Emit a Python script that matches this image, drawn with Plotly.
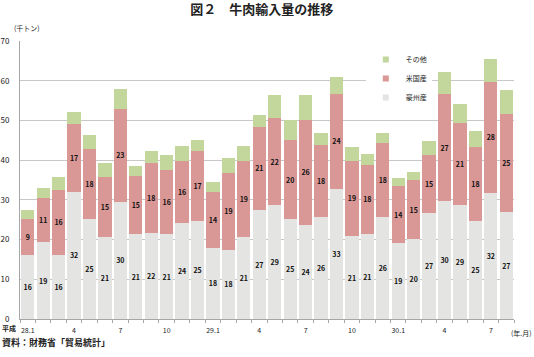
import plotly.graph_objects as go

months = ["28.1","28.2","28.3","28.4","28.5","28.6","28.7","28.8","28.9","28.10","28.11","28.12",
          "29.1","29.2","29.3","29.4","29.5","29.6","29.7","29.8","29.9","29.10","29.11","29.12",
          "30.1","30.2","30.3","30.4","30.5","30.6","30.7","30.8"]
tick_labels = ["28.1","4","7","10","29.1","4","7","10","30.1","4","7"]

australia = [16.1,19.3,16.1,32.1,25.1,20.6,29.5,21.4,21.6,21.4,24.1,24.8,
             17.9,17.5,20.6,27.4,28.6,25.2,23.7,25.8,32.7,20.9,21.3,25.8,
             19.1,20.1,26.6,29.6,28.7,24.8,31.8,26.9]
usa = [9.0,11.1,16.4,16.9,17.8,15.1,23.4,14.7,17.7,16.2,15.8,17.4,
       14.0,19.2,19.1,21.0,22.1,19.8,26.5,18.0,24.0,19.0,17.6,18.4,
       14.3,14.9,14.6,27.1,20.7,18.4,28.0,24.7]
other = [2.3,2.5,3.3,3.1,3.4,3.5,4.9,2.5,2.9,3.6,3.7,2.8,
         2.7,3.9,3.8,3.0,5.6,5.1,6.1,3.0,4.2,3.4,2.6,2.7,
         2.2,2.1,3.6,5.4,4.7,4.1,5.7,6.1]

series_names = ["豪州産", "米国産", "その他"]
colors = ["#e4e4e2", "#d99795", "#c3d69b"]

x = list(range(len(months)))
FONT = "Noto Sans CJK JP"

fig = go.Figure()
for name, vals, col, lab in zip(series_names, [australia, usa, other], colors, [True, True, False]):
    fig.add_trace(go.Bar(
        x=x, y=vals, name=name, marker=dict(color=col, line=dict(width=0)),
        text=[f"<b>{round(v)}</b>" for v in vals] if lab else None,
        textposition="inside" if lab else "none",
        insidetextanchor="middle", textangle=0,
        textfont=dict(size=7, color="#111", family=FONT),
        showlegend=False, hoverinfo="y+name"))

# legend entries with small square swatches
for rank, (name, col) in enumerate(zip(series_names, colors)):
    fig.add_trace(go.Scatter(
        x=[None], y=[None], mode="markers", name=name,
        marker=dict(symbol="square", size=6, color=col),
        legendgroup=name, legendrank=10 - rank, showlegend=True))

fig.update_layout(
    width=534, height=357,
    barmode="stack", bargap=0.14,
    paper_bgcolor="white", plot_bgcolor="white",
    margin=dict(l=20, r=20, t=41, b=38),
    font=dict(family=FONT, size=8, color="#222"),
    uniformtext=dict(minsize=7, mode="show"),
    title=dict(text="<b>図２　牛肉輸入量の推移</b>", x=0.49, xanchor="center", y=0.974, yanchor="middle",
               font=dict(size=13, family=FONT, color="#222")),
    legend=dict(x=0.70, y=0.986, xanchor="left", yanchor="top", bgcolor="white",
                traceorder="grouped", tracegroupgap=0,
                font=dict(size=7, family=FONT, color="#222"),
                itemwidth=30),
    showlegend=True,
)
fig.update_xaxes(
    range=[-0.5, len(months) - 0.5], automargin=False,
    tickmode="array", tickvals=[x[i] for i in range(0, len(months), 3)], ticktext=tick_labels,
    ticks="", showgrid=False, showline=True, linecolor="#a6a6a6", linewidth=1,
    ticklabelstandoff=5,
    tickfont=dict(size=7, family=FONT, color="#222"),
    minor=dict(ticks="outside", tick0=-0.5, dtick=1, ticklen=3, tickcolor="#a6a6a6", showgrid=False),
)
fig.update_yaxes(
    range=[0, 70], dtick=10, showgrid=True, gridcolor="#c8c8c8", gridwidth=1,
    showline=True, linecolor="#a6a6a6", linewidth=1, ticks="", automargin=False,
    ticklabelstandoff=8,
    tickfont=dict(size=8, family=FONT, color="#222"), zeroline=False,
)

fig.add_annotation(text="(千トン)", xref="paper", yref="paper", x=-0.016, y=1.047,
                   xanchor="left", yanchor="middle", showarrow=False,
                   font=dict(size=7, family=FONT, color="#222"))
fig.add_annotation(text="<b>平成</b>", xref="paper", yref="paper", x=-0.005, y=-0.033,
                   xanchor="right", yanchor="middle", showarrow=False,
                   font=dict(size=7, family=FONT, color="#222"))
fig.add_annotation(text="(年.月)", xref="paper", yref="paper", x=1.04, y=-0.05,
                   xanchor="right", yanchor="middle", showarrow=False,
                   font=dict(size=7, family=FONT, color="#222"))
fig.add_annotation(text="<b>資料：財務省「貿易統計」</b>", xref="paper", yref="paper", x=-0.04, y=-0.086,
                   xanchor="left", yanchor="middle", showarrow=False,
                   font=dict(size=9, family=FONT, color="#222"))

fig.write_html("out.html", config={"displayModeBar": False},
               post_script="document.body.style.margin='0px';")
